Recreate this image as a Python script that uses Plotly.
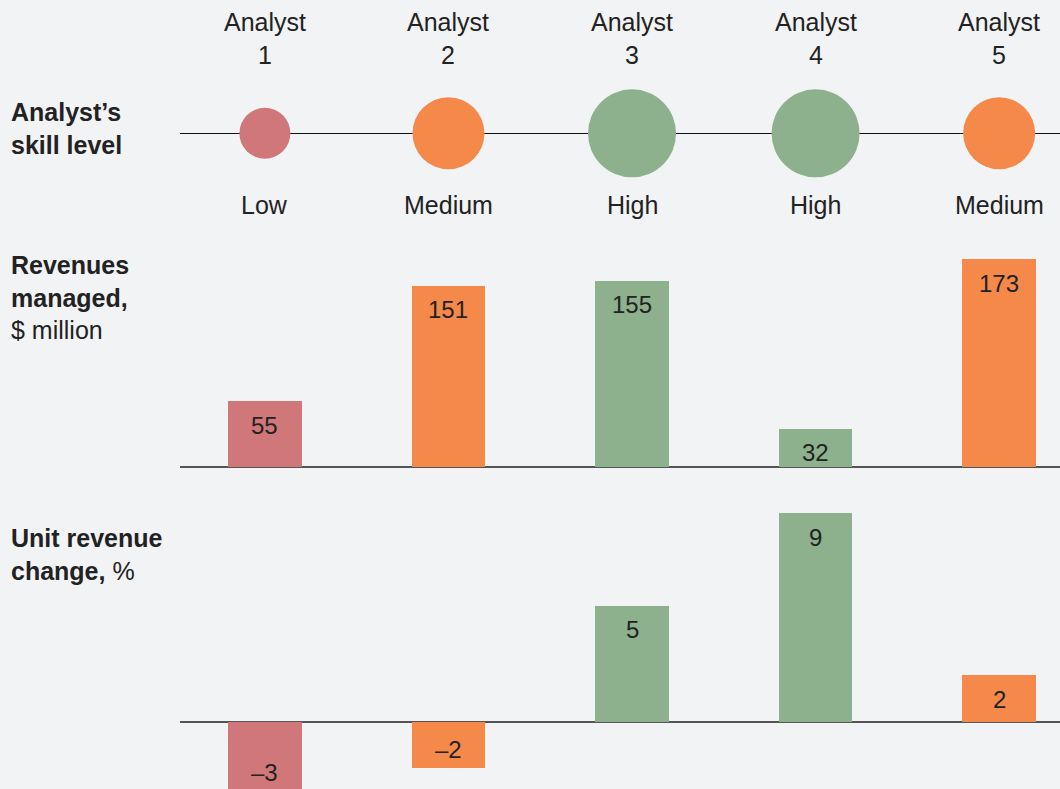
import plotly.graph_objects as go

# ---------------- data ----------------
analysts = ["Analyst 1", "Analyst 2", "Analyst 3", "Analyst 4", "Analyst 5"]
analyst_labels = ["Analyst<br>1", "Analyst<br>2", "Analyst<br>3", "Analyst<br>4", "Analyst<br>5"]
skill_levels = ["Low", "Medium", "High", "High", "Medium"]
revenues_managed = [55, 151, 155, 32, 173]          # $ million
unit_revenue_change = [-3, -2, 5, 9, 2]             # %

# ---------------- styles ----------------
skill_colors = {"Low": "#d0777a", "Medium": "#f4894a", "High": "#8db18c"}
skill_sizes = {"Low": 51, "Medium": 72, "High": 88}
BG = "#f2f3f5"
TXT = "#222222"
FONT = "Liberation Sans, Arial, Helvetica, sans-serif"
W, H = 1060, 789


def py(px):
    """pixel row -> paper y"""
    return 1 - px / H


colors = [skill_colors[s] for s in skill_levels]
sizes = [skill_sizes[s] for s in skill_levels]

# axis geometry
x0, x1 = -0.4625, 4.3315
rev_base, rev_scale = 467.3, 1.203
unit_base, unit_scale = 721.7, 23.15

fig = go.Figure()

# skill-level circles
fig.add_trace(go.Scatter(
    x=analysts, y=[0] * len(analysts), mode="markers",
    marker=dict(size=sizes, color=colors, line=dict(width=0), opacity=1),
    cliponaxis=False, xaxis="x", yaxis="y", hoverinfo="skip", showlegend=False))

# revenues managed
fig.add_trace(go.Bar(
    x=analysts, y=revenues_managed, width=0.4, marker=dict(color=colors, line=dict(width=0)),
    xaxis="x", yaxis="y2", hoverinfo="skip", showlegend=False))

# unit revenue change
fig.add_trace(go.Bar(
    x=analysts, y=unit_revenue_change, width=0.4, marker=dict(color=colors, line=dict(width=0)),
    xaxis="x", yaxis="y3", hoverinfo="skip", showlegend=False))

annotations = []
NUMFONT = dict(size=24, color=TXT, family=FONT)
LABFONT = dict(size=25, color=TXT, family=FONT)


def fmt(v):
    return ("\u2013" + str(abs(v))) if v < 0 else str(v)


for a, v in zip(analysts, revenues_managed):
    annotations.append(dict(x=a, y=v, xref="x", yref="y2", text=fmt(v), showarrow=False,
                            yanchor="middle", yshift=-24, font=NUMFONT))
for a, v in zip(analysts, unit_revenue_change):
    if v > 0:
        annotations.append(dict(x=a, y=v, xref="x", yref="y3", text=fmt(v), showarrow=False,
                                yanchor="middle", yshift=-24, font=NUMFONT))
    else:
        # anchor on the baseline so the label stays visible when the bar end is cropped
        annotations.append(dict(x=a, y=0, xref="x", yref="y3", text=fmt(v), showarrow=False,
                                yanchor="middle", yshift=v * unit_scale + 19, font=NUMFONT))

# analyst headers and skill labels
for a, lab, s in zip(analysts, analyst_labels, skill_levels):
    annotations.append(dict(x=a, y=py(38), xref="x", yref="paper", text=lab, showarrow=False,
                            yanchor="middle", align="center", font=LABFONT))
    annotations.append(dict(x=a, y=py(205), xref="x", yref="paper", text=s, showarrow=False,
                            yanchor="middle", font=LABFONT))

# row titles
row_titles = [
    ("<b>Analyst\u2019s</b><br><b>skill level</b>", 128.5),
    ("<b>Revenues</b><br><b>managed,</b><br>$ million", 297.5),
    ("<b>Unit revenue</b><br><b>change,</b> %", 554.3),
]
for t, ypx in row_titles:
    annotations.append(dict(x=9 / W, y=py(ypx), xref="paper", yref="paper", text=t, showarrow=False,
                            xanchor="left", yanchor="middle", align="left", font=LABFONT))

fig.update_layout(
    width=W, height=H,
    margin=dict(l=0, r=0, t=0, b=0),
    paper_bgcolor=BG, plot_bgcolor=BG,
    font=dict(family=FONT, color=TXT, size=24),
    showlegend=False,
    bargap=0,
    xaxis=dict(domain=[180 / W, 1], type="category", categoryorder="array", categoryarray=analysts,
               range=[x0, x1], visible=False, fixedrange=True),
    yaxis=dict(domain=[py(186.6), py(80)], range=[-1, 1], anchor="x",
               showgrid=False, showticklabels=False, ticks="", showline=False,
               zeroline=True, zerolinecolor="#111111", zerolinewidth=1.3, fixedrange=True),
    yaxis2=dict(domain=[py(480), py(240)],
                range=[-(480 - rev_base) / rev_scale, (rev_base - 240) / rev_scale], anchor="x",
                showgrid=False, showticklabels=False, ticks="", showline=False,
                zeroline=True, zerolinecolor="#555555", zerolinewidth=1.5, fixedrange=True),
    yaxis3=dict(domain=[0, py(490)],
                range=[-(H - unit_base) / unit_scale, (unit_base - 490) / unit_scale], anchor="x",
                showgrid=False, showticklabels=False, ticks="", showline=False,
                zeroline=True, zerolinecolor="#555555", zerolinewidth=1.5, fixedrange=True),
    annotations=annotations,
)

fig.write_html(
    "out.html",
    config={"displayModeBar": False},
    post_script="document.body.style.margin='0';document.body.style.padding='0';"
                "document.body.style.background='" + BG + "';",
)
